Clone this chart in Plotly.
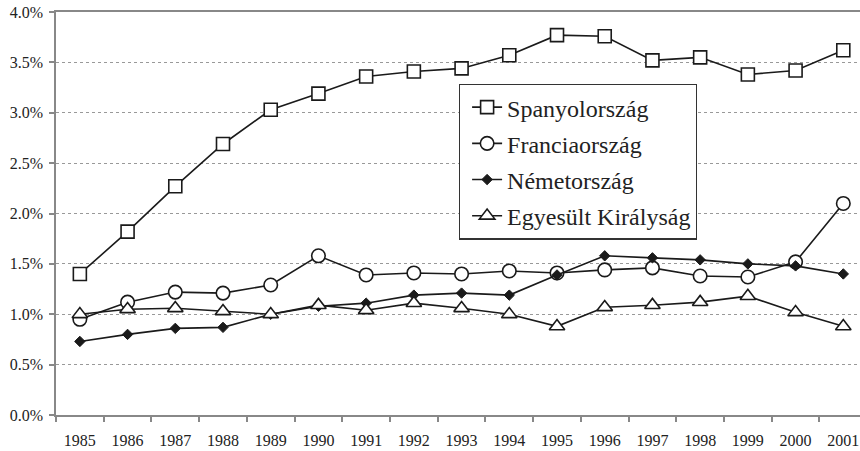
import plotly.graph_objects as go

years = list(range(1985, 2002))
spain = [1.40, 1.82, 2.27, 2.69, 3.03, 3.19, 3.36, 3.41, 3.44, 3.57, 3.77, 3.76, 3.52, 3.55, 3.38, 3.42, 3.62]
france = [0.95, 1.12, 1.22, 1.21, 1.29, 1.58, 1.39, 1.41, 1.40, 1.43, 1.41, 1.44, 1.46, 1.38, 1.37, 1.52, 2.10]
germany = [0.73, 0.80, 0.86, 0.87, 1.00, 1.08, 1.11, 1.19, 1.21, 1.19, 1.39, 1.58, 1.56, 1.54, 1.50, 1.48, 1.40]
uk = [1.00, 1.05, 1.06, 1.03, 1.00, 1.09, 1.04, 1.11, 1.06, 1.00, 0.88, 1.07, 1.09, 1.12, 1.18, 1.02, 0.88]
names = ["Spanyolország", "Franciaország", "Németország", "Egyesült Királyság"]
ytickvals = [0, 0.5, 1.0, 1.5, 2.0, 2.5, 3.0, 3.5, 4.0]
yticktext = ["0.0%", "0.5%", "1.0%", "1.5%", "2.0%", "2.5%", "3.0%", "3.5%", "4.0%"]

FONT = "Liberation Serif"
line_color = "#1a1a1a"
series = [
    (spain, names[0], dict(symbol="square", size=13, color="white", line=dict(color=line_color, width=1.6))),
    (france, names[1], dict(symbol="circle", size=13.5, color="white", line=dict(color=line_color, width=1.6))),
    (germany, names[2], dict(symbol="diamond", size=8, color=line_color, line=dict(color=line_color, width=1))),
    (uk, names[3], dict(symbol="triangle-up", size=13.5, color="white", line=dict(color=line_color, width=1.6))),
]

fig = go.Figure()
for vals, name, mk in series:
    fig.add_trace(go.Scatter(
        x=years, y=vals, name=name, mode="lines+markers",
        line=dict(color=line_color, width=1.6), marker=mk,
        legendgroup=name,
    ))

fig.update_layout(
    width=860, height=451,
    margin=dict(l=56, r=0, t=12, b=36),
    paper_bgcolor="white", plot_bgcolor="white",
    font=dict(family=FONT, size=16, color="#222"),
    showlegend=True,
    legend=dict(
        x=0.501, y=0.822, xanchor="left", yanchor="top",
        bordercolor="#333", borderwidth=1.3, bgcolor="white",
        font=dict(family=FONT, size=24, color="#222"),
        tracegroupgap=2,
        indentation=7,
    ),
    xaxis=dict(
        range=[1984.5, 2001.35],
        tickvals=years, ticktext=[str(y) for y in years],
        ticks="", showgrid=False, zeroline=False,
        showline=True, linecolor="#888", linewidth=1.5, mirror=True,
        minor=dict(tickvals=[y - 0.5 for y in years] + [2001.5], ticks="outside", ticklen=5, tickcolor="#888", tickwidth=1.5, showgrid=False),
        ticklabelstandoff=10,
        tickfont=dict(family=FONT, size=16, color="#222"),
    ),
    yaxis=dict(
        range=[0, 4.0],
        tickvals=ytickvals, ticktext=yticktext,
        ticks="outside", ticklen=5, tickcolor="#888", tickwidth=1.5,
        showgrid=True, gridcolor="#999", griddash="dot", gridwidth=1,
        zeroline=False, showline=True, linecolor="#888", linewidth=1.5,
        ticklabelstandoff=3,
        tickfont=dict(family=FONT, size=16, color="#222"),
    ),
)

fig.write_html("out.html", config={"displayModeBar": False},
               post_script="document.body.style.margin='0px';document.body.style.overflow='hidden';")
